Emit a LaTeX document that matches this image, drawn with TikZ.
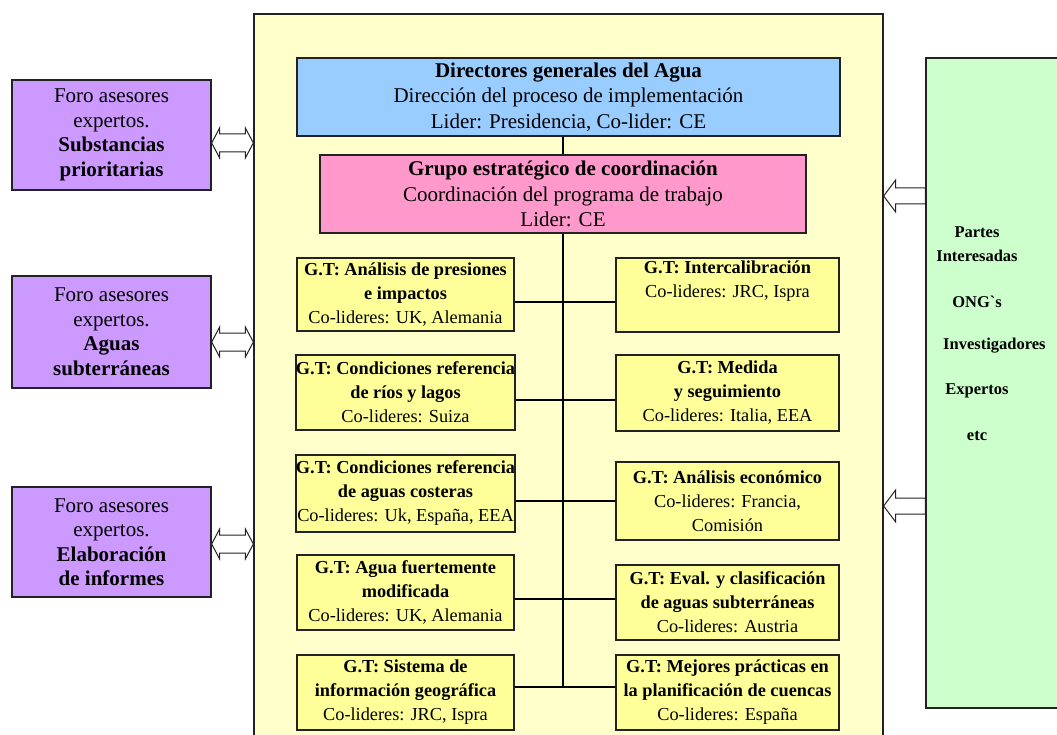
\documentclass[tikz,border=0pt]{standalone}
\usepackage{fontspec}
\setmainfont{Liberation Serif}
\newfontfamily\plainser{Liberation Serif}
\usetikzlibrary{calc}
\definecolor{panelfill}{HTML}{FFFFCC}
\definecolor{gtfill}{HTML}{FFFF99}
\definecolor{bluefill}{HTML}{99CCFF}
\definecolor{pinkfill}{HTML}{FF99CC}
\definecolor{purplefill}{HTML}{CC99FF}
\definecolor{greenfill}{HTML}{CCFFCC}
\definecolor{edge}{HTML}{222222}
\newcommand{\fbig}{\fontsize{21}{25.5}\selectfont}
\newcommand{\fforo}{\fontsize{21}{24.5}\selectfont}
\newcommand{\fgt}{\fontsize{18.3}{24}\selectfont}
\newcommand{\fside}{\fontsize{16.5}{24}\selectfont}
\tikzset{
  box/.style={draw=edge, line width=1.3pt, inner sep=0pt, align=center, anchor=center},
  gtbox/.style={box, fill=gtfill, font=\fgt},
  forobox/.style={box, fill=purplefill, font=\fforo, minimum width=199pt},
  link/.style={draw=black, line width=1.3pt},
  hollow/.style={draw=edge, fill=white, line width=1pt, line join=miter},
  sidetext/.style={font=\fside\bfseries, align=center, inner sep=0pt}
}
\newcommand{\dblarrow}[2]{\draw[hollow] (#1) -- ++(8,-15) -- ++(0,6) -- ($(#2)+(-8,-9)$) -- ++(0,-6) -- (#2) -- ++(-8,15) -- ++(0,-6) -- ($(#1)+(8,9)$) -- ++(0,6) -- cycle;}
\newcommand{\leftarrowhollow}[2]{\draw[hollow] (#1) -- ++(12,-16) -- ++(0,8) -- ($(#2)+(0,-8)$) -- ($(#2)+(0,8)$) -- ($(#1)+(12,8)$) -- ++(0,8) -- cycle;}
\begin{document}
\begin{tikzpicture}[x=1pt,y=-1pt]
\useasboundingbox (0,0) rectangle (1057,735);
\clip (0,0) rectangle (1057,735);
\fill[white] (0,0) rectangle (1057,735);

% main panel
\node[box, fill=panelfill, minimum width=629pt, minimum height=746pt] (panel) at (568.5,387) {};

% stakeholders box
\node[box, fill=greenfill, minimum width=144pt, minimum height=650pt] (pg) at (998,383) {};
\node[sidetext] (t1) at (977,244) {Partes\\Interesadas};
\node[sidetext] (t2) at (977,302) {\plainser ONG`s};
\node[sidetext, anchor=west] (t3) at (943,346) {Investigadores};
\node[sidetext] (t4) at (977,391) {Expertos};
\node[sidetext] (t5) at (977,436) {etc};

% forums
\node[forobox, minimum height=110pt] (f1) at (111.5,135) {Foro asesores\\expertos.\\\textbf{Substancias}\\\textbf{prioritarias}};
\node[forobox, minimum height=112pt] (f2) at (111.5,332) {Foro asesores\\expertos.\\\textbf{Aguas}\\\textbf{subterráneas}};
\node[forobox, minimum height=110pt] (f3) at (111.5,542) {Foro asesores\\expertos.\\\textbf{Elaboración}\\\textbf{de informes}};

% top boxes
\node[box, fill=bluefill, font=\fbig, minimum width=543pt, minimum height=78pt] (dg) at (568.5,97)
  {\textbf{Directores generales del Agua}\\Dirección del proceso de implementación\\Lider: Presidencia, Co-lider: CE};
\node[box, fill=pinkfill, font=\fbig, minimum width=486pt, minimum height=78pt] (gec) at (563,194)
  {\textbf{Grupo estratégico de coordinación}\\Coordinación del programa de trabajo\\Lider: CE};

% working groups, left column
\node[gtbox, minimum width=217pt, minimum height=73pt] (l1) at (405.5,294.5)
  {\textbf{G.T: Análisis de presiones}\\\textbf{e impactos}\\Co-lideres: UK, Alemania};
\node[gtbox, minimum width=217pt, minimum height=75pt] (l2) at (405.5,392.5)
  {\textbf{G.T: Condiciones referencia}\\\textbf{de ríos y lagos}\\Co-lideres: Suiza};
\node[gtbox, minimum width=217pt, minimum height=77pt] (l3) at (405.5,493.5)
  {\textbf{G.T: Condiciones referencia}\\\textbf{de aguas costeras}\\Co-lideres: Uk, España, EEA};
\node[gtbox, minimum width=217pt, minimum height=75pt] (l4) at (405.5,592.5)
  {\textbf{G.T: Agua fuertemente}\\\textbf{modificada}\\Co-lideres: UK, Alemania};
\node[gtbox, minimum width=217pt, minimum height=75pt] (l5) at (405.5,692.5)
  {\textbf{G.T: Sistema de}\\\textbf{información geográfica}\\Co-lideres: JRC, Ispra};

% working groups, right column
\node[gtbox, minimum width=223pt, minimum height=74pt] (r1) at (727.5,295)
  {\textbf{G.T: Intercalibración}\\Co-lideres: JRC, Ispra\\\strut};
\node[gtbox, minimum width=223pt, minimum height=76pt] (r2) at (727.5,393)
  {\textbf{G.T: Medida}\\\textbf{y seguimiento}\\Co-lideres: Italia, EEA};
\node[gtbox, minimum width=223pt, minimum height=78pt] (r3) at (727.5,501)
  {\textbf{G.T: Análisis económico}\\Co-lideres: Francia,\\Comisión};
\node[gtbox, minimum width=223pt, minimum height=75pt] (r4) at (727.5,602.5)
  {\textbf{G.T: Eval. y clasificación}\\\textbf{de aguas subterráneas}\\Co-lideres: Austria};
\node[gtbox, minimum width=223pt, minimum height=75pt] (r5) at (727.5,692.5)
  {\textbf{G.T: Mejores prácticas en}\\\textbf{la planificación de cuencas}\\Co-lideres: España};

% connectors
\coordinate (j1) at (563,302);
\coordinate (j2) at (563,400);
\coordinate (j3) at (563,501);
\coordinate (j4) at (563,599);
\coordinate (j5) at (563,687);
\draw[link] (gec.north) -- (gec.north |- dg.south);
\draw[link] (gec.south) -- (gec.south |- j5);
\draw[link] (j1 -| l1.east) -- (j1 -| r1.west);
\draw[link] (j2 -| l2.east) -- (j2 -| r2.west);
\draw[link] (j3 -| l3.east) -- (j3 -| r3.west);
\draw[link] (j4 -| l4.east) -- (j4 -| r4.west);
\draw[link] (j5 -| l5.east) -- (j5 -| r5.west);

% hollow arrows
\coordinate (y1) at (0,143);
\coordinate (y2) at (0,342);
\coordinate (y3) at (0,544);
\dblarrow{f1.east |- y1}{panel.west |- y1}
\dblarrow{f2.east |- y2}{panel.west |- y2}
\dblarrow{f3.east |- y3}{panel.west |- y3}
\coordinate (ya) at (0,196);
\coordinate (yb) at (0,506);
\leftarrowhollow{panel.east |- ya}{pg.west |- ya}
\leftarrowhollow{panel.east |- yb}{pg.west |- yb}
\end{tikzpicture}
\end{document}
